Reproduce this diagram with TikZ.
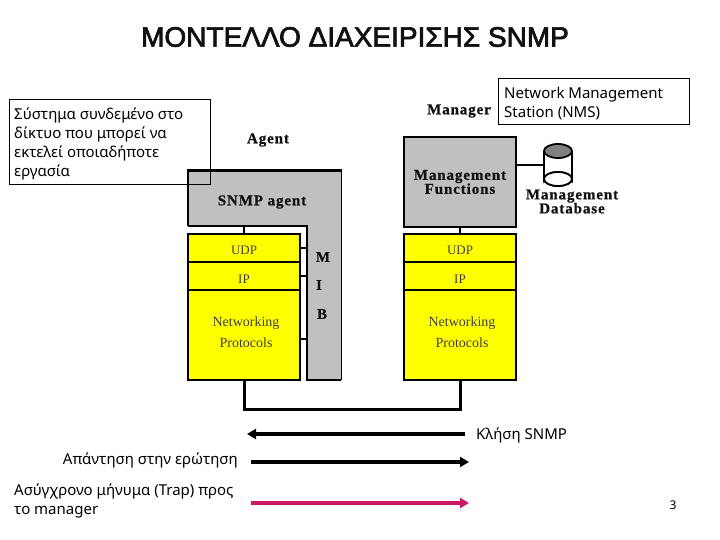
\documentclass[tikz,border=0pt]{standalone}
\usepackage{fontspec}
\setmainfont{Liberation Serif}
\newfontfamily\uifont{Noto Sans}
\newfontfamily\headfont[FakeBold=2.5]{Liberation Sans}
\newfontfamily\labfont[LetterSpace=6,FakeBold=0.8]{Liberation Serif}
\usetikzlibrary{arrows.meta,positioning,shapes.geometric}
\definecolor{ly}{HTML}{FFFF00}
\definecolor{gr}{HTML}{C0C0C0}
\definecolor{dbtop}{HTML}{808080}
\definecolor{trapc}{HTML}{CC1666}
\definecolor{ink}{HTML}{111111}
\newcommand{\nettext}{\kern4pt\raisebox{-0.5pt}[0pt][0pt]{\parbox{100pt}{\centering Networking\\Protocols}}}
\newcommand{\lowtext}[2]{\raisebox{#1}[0pt][0pt]{#2}}
\tikzset{
  layer/.style={draw=black,line width=1.6pt,fill=ly,minimum width=112pt,inner sep=0pt,outer sep=0pt,font=\fontsize{13}{14}\selectfont,text=black!75,align=center},
  netlayer/.style={layer,minimum height=90pt,font=\fontsize{14}{21}\selectfont},
  fbox/.style={draw=black,line width=2.4pt,fill=gr,minimum width=112pt,minimum height=90pt,inner sep=0pt,outer sep=0pt},
  lbl/.style={font=\labfont\fontsize{15}{14}\selectfont\bfseries,text=ink,inner sep=0pt,align=center},
  note/.style={draw=black,line width=0.7pt,inner sep=0pt,outer sep=0pt,minimum width=#1},
  say/.style={font=\uifont\fontsize{15}{19}\selectfont,text=black,inner sep=0pt,align=left},
  link/.style={line width=1.6pt},
  bus/.style={line width=3pt},
  ar/.style={-{Triangle[length=9pt,width=10pt]},line width=3.5pt},
}
\begin{document}
\begin{tikzpicture}[x=1pt,y=-1pt]
\useasboundingbox (0,0) rectangle (720,540);
\node[font=\headfont\fontsize{28}{28}\selectfont,text=ink,inner sep=0pt] (title) at (355,37) {ΜΟΝΤΕΛΛΟ ΔΙΑΧΕΙΡΙΣΗΣ SNMP};
% agent L shape
\fill[gr] (188,171) -- (341,171) -- (341,380) -- (307,380) -- (307,226) -- (188,226) -- cycle;
\draw[line width=1.6pt] (188,226) -- (307,226) -- (307,380) -- (341,380);
\draw[line width=1pt] (341,380) -- (341,171);
\draw[line width=1.6pt] (188,226) -- (188,171);
\draw[line width=3pt] (186.5,171) -- (342,171);
\coordinate (agentfoot) at (244,226);
\coordinate (mibleft) at (307,300);
\node[lbl] (agentname) at (268,140) {Agent};
\node[lbl] (snmpagent) at (262,202) {SNMP agent};
\node[lbl] (mibm) at (323,257) {M};
\node[lbl] (mibi) at (319,285) {I};
\node[lbl] (mibb) at (322,314) {B};
% agent stack
\node[layer,minimum height=28pt] (udpa) at (244,248) {\lowtext{-6.5pt}{UDP}};
\node[layer,minimum height=28pt] (ipa) at (244,276) {\lowtext{-7.5pt}{IP}};
\node[netlayer] (neta) at (244,335) {\nettext};
\draw[line width=2.4pt] (188,380) -- (188,234) -- (300,234) -- (300,380) -- cycle;
\coordinate (netatick) at (300,339);
\draw[link] (agentfoot) -- (udpa.north -| agentfoot);
\draw[link] (udpa.east) -- (udpa.east -| mibleft);
\draw[link] (ipa.east) -- (ipa.east -| mibleft);
\draw[link] (netatick) -- (netatick -| mibleft);
% manager stack
\node[lbl] (mgrname) at (459,111) {Manager};
\node[fbox,font=\labfont\fontsize{15}{14}\selectfont\bfseries,text=ink,align=center] (funcs) at (460,182) {Management\\Functions};
\node[layer,minimum height=28pt] (udpm) at (460,248) {\lowtext{-6.5pt}{UDP}};
\node[layer,minimum height=28pt] (ipm) at (460,276) {\lowtext{-7.5pt}{IP}};
\node[netlayer] (netm) at (460,335) {\nettext};
\draw[line width=2.4pt] (404,380) -- (404,234) -- (516,234) -- (516,380) -- cycle;
\draw[link] (funcs.south) -- (udpm.north);
% database
\draw[line width=1.8pt,fill=white] (544,151) -- (544,179) arc (180:360:14 and 7) -- (572,151);
\draw[line width=1.8pt,fill=white] (558,179) ellipse (14 and 7);
\draw[line width=1.8pt,fill=white] (544,179) arc (180:0:14 and 7);
\draw[line width=1.8pt,fill=dbtop] (558,151) ellipse (14 and 7);
\coordinate (dbside) at (544,165);
\draw[link] (funcs.east |- dbside) -- (dbside);
\node[lbl] (dbname) at (572,201.5) {Management\\Database};
% bus
\draw[bus] (neta.south) -- (244,409) -- (460,409) -- (netm.south);
% notes
\node[note=201pt,minimum height=85pt] (agentnote) at (109.5,141.5) {};
\node[say,anchor=north west] (agenttext) at (14,108) {Σύστημα συνδεμένο στο\\δίκτυο που μπορεί να\\εκτελεί οποιαδήποτε\\εργασία};
\node[note=191pt,minimum height=46pt] (nmsnote) at (593.5,101) {};
\node[say,anchor=north west] (nmstext) at (504,87) {Network Management\\Station (NMS)};
% legend
\coordinate (calla) at (465,434);
\coordinate (callb) at (247,434);
\coordinate (repa) at (251,462);
\coordinate (repb) at (469,462);
\coordinate (trapa) at (251,503);
\coordinate (trapb) at (469,503);
\draw[ar] (calla) -- (callb);
\draw[ar] (repa) -- (repb);
\draw[ar,draw=trapc] (trapa) -- (trapb);
\node[say,anchor=west] (calltext) at (476,435) {Κλήση SNMP};
\node[say,anchor=east] (reptext) at (238,460) {Απάντηση στην ερώτηση};
\node[say,anchor=north west] (traptext) at (14,484) {Ασύγχρονο μήνυμα (Trap) προς\\το manager};
\node[font=\uifont\fontsize{12}{12}\selectfont,inner sep=0pt] (pageno) at (673,505) {3};
\end{tikzpicture}
\end{document}
